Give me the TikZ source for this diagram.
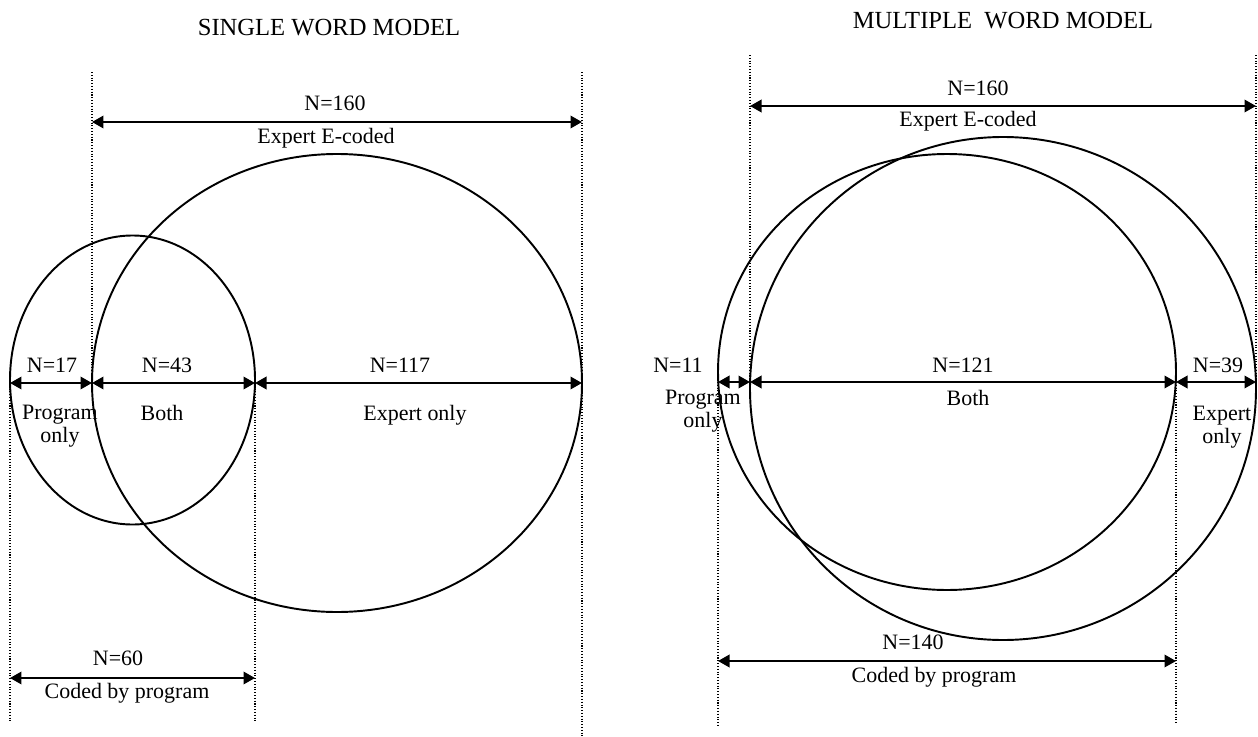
\documentclass[tikz,border=0pt]{standalone}
\usepackage{fontspec}
\setmainfont{Liberation Serif}
\usetikzlibrary{arrows.meta}

\begin{document}
\begin{tikzpicture}[x=0.02cm, y=-0.02cm,
  every node/.style={font=\fontsize{12.5}{13}\selectfont, inner sep=0pt, anchor=base},
  title/.style={font=\fontsize{14}{16}\selectfont},
  lines/.style={align=center, anchor=north},
  dim/.style={{Triangle[length=0.23cm,width=0.25cm]}-{Triangle[length=0.23cm,width=0.25cm]}, line width=1.1pt},
  guide/.style={densely dotted, line width=0.6pt},
  venn/.style={line width=1.1pt}]
\useasboundingbox (0,0) rectangle (1258,737);

% single word model
\node[title] (ltitle) at (329,35) {SINGLE WORD MODEL};
\coordinate (la) at (10,383);  \coordinate (lb) at (92,383);
\coordinate (lc) at (255,383); \coordinate (ld) at (582,383);
\coordinate (lta) at (92,122); \coordinate (ltb) at (582,122);
\coordinate (lba) at (10,678); \coordinate (lbb) at (255,678);
\draw[guide] (92,72) -- (lb);
\draw[guide] (582,72) -- (582,737);
\draw[guide] (la) -- (10,722);
\draw[guide] (lc) -- (255,722);
\draw[venn] (337,383) ellipse [x radius=245, y radius=229];
\draw[venn] (132.5,380) ellipse [x radius=122.5, y radius=144.5];
\draw[dim] (lta) -- (ltb);
\node (lexpn) at (335,110) {N=160};
\node (lexpt) at (326,143) {Expert E-coded};
\draw[dim] (la) -- (lb);
\draw[dim] (lb) -- (lc);
\draw[dim] (lc) -- (ld);
\node (lprogn) at (52,372) {N=17};
\node (lbothn) at (167,372) {N=43};
\node (lexpon) at (400,372) {N=117};
\node[lines] (lprogt) at (60,405) {Program\\only};
\node (lbotht) at (162,420) {Both};
\node (lexpot) at (415,420) {Expert only};
\draw[dim] (lba) -- (lbb);
\node (lcodn) at (118,665) {N=60};
\node (lcodt) at (127,698) {Coded by program};

% multiple word model
\node[title] (rtitle) at (1003,29) {MULTIPLE\ \ WORD MODEL};
\coordinate (ra) at (718,382);  \coordinate (rb) at (750,382);
\coordinate (rc) at (1176,382); \coordinate (rd) at (1256,382);
\coordinate (rta) at (750,106); \coordinate (rtb) at (1256,106);
\coordinate (rba) at (718,661); \coordinate (rbb) at (1176,661);
\draw[guide] (750,55) -- (rb);
\draw[guide] (1256,55) -- (rd);
\draw[guide] (ra) -- (718,727);
\draw[guide] (rc) -- (1176,723);
\draw[venn] (947,372) ellipse [x radius=229, y radius=218];
\draw[venn] (1003,388.5) ellipse [x radius=253, y radius=251.5];
\draw[dim] (rta) -- (rtb);
\node (rexpn) at (978,95) {N=160};
\node (rexpt) at (968,126) {Expert E-coded};
\draw[dim] (ra) -- (rb);
\draw[dim] (rb) -- (rc);
\draw[dim] (rc) -- (rd);
\node (rprogn) at (678,372) {N=11};
\node (rbothn) at (963,372) {N=121};
\node (rexpon) at (1218,372) {N=39};
\node[lines] (rprogt) at (703,390) {Program\\only};
\node (rbotht) at (968,405) {Both};
\node[lines] (rexpot) at (1222,406) {Expert\\only};
\draw[dim] (rba) -- (rbb);
\node (rcodn) at (913,649) {N=140};
\node (rcodt) at (934,682) {Coded by program};
\end{tikzpicture}
\end{document}
